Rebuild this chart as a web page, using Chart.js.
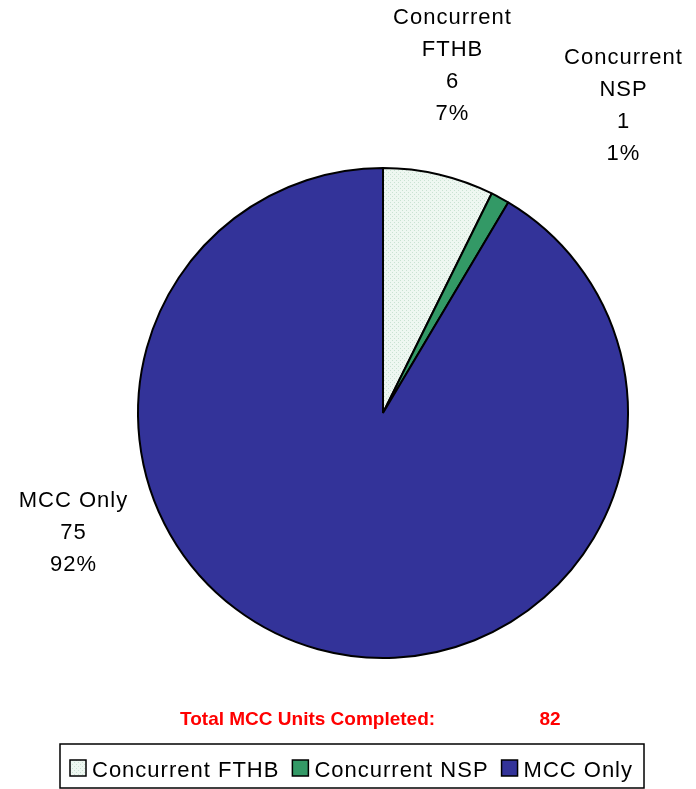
<!DOCTYPE html>
<html>
<head>
<meta charset="utf-8">
<script src="https://cdn.jsdelivr.net/npm/chart.js@4.4.1/dist/chart.umd.min.js"></script>
<style>
    html, body { margin: 0; padding: 0; background: #ffffff; }
    #wrap { width: 696px; height: 789px; }
</style>
</head>
<body>
<div id="wrap"><canvas id="mcc-pie" width="696" height="789"></canvas></div>
<script>
// data
const categories = ['Concurrent FTHB', 'Concurrent NSP', 'MCC Only'];
const unitCounts = [6, 1, 75];
const percentLabels = ['7%', '1%', '92%'];
const labelLines = [['Concurrent', 'FTHB'], ['Concurrent', 'NSP'], ['MCC Only']];
const totalTitle = 'Total MCC Units Completed:';

// label block anchors, offset from pie centre (layout only)
const labelOffsets = [{ dx: 69, dy: -389 }, { dx: 240, dy: -349 }, { dx: -310, dy: 94 }];

const FONT = '"Liberation Sans", Arial, sans-serif';
const SPACING = 1;   // the source text is set a little loose

function dotPattern() {
    const tile = document.createElement('canvas');
    tile.width = 4;
    tile.height = 4;
    const c = tile.getContext('2d');
    c.fillStyle = '#eef7f1';
    c.fillRect(0, 0, 4, 4);
    c.fillStyle = '#c9e2d2';
    c.fillRect(0, 0, 1, 1);
    c.fillRect(2, 2, 1, 1);
    return document.getElementById('mcc-pie').getContext('2d').createPattern(tile, 'repeat');
}

const sliceColors = [dotPattern(), '#339966', '#333399'];

function looseText(ctx, text, x, y, align) {
    ctx.save();
    ctx.letterSpacing = SPACING + 'px';
    ctx.textAlign = 'left';
    const w = ctx.measureText(text).width - SPACING;
    const left = align === 'center' ? x - w / 2 : x;
    ctx.fillText(text, left, y);
    ctx.restore();
    return w;
}

const extrasPlugin = {
    id: 'extras',
    afterDraw(chart) {
        const ctx = chart.ctx;
        const arc = chart.getDatasetMeta(0).data[0];
        const cx = arc.x;
        const cy = arc.y;

        // data labels
        ctx.save();
        ctx.fillStyle = '#000000';
        ctx.font = '22px ' + FONT;
        ctx.textBaseline = 'alphabetic';
        unitCounts.forEach((value, i) => {
            const lines = labelLines[i].concat([String(value), percentLabels[i]]);
            const x = cx + labelOffsets[i].dx;
            let y = cy + labelOffsets[i].dy;
            lines.forEach(line => {
                looseText(ctx, line, x, y, 'center');
                y += 32;
            });
        });
        ctx.restore();

        // total line
        const total = unitCounts.reduce((a, b) => a + b, 0);
        ctx.save();
        ctx.fillStyle = '#ff0000';
        ctx.font = 'bold 19px ' + FONT;
        ctx.textAlign = 'left';
        ctx.fillText(totalTitle, 180, 725);
        ctx.textAlign = 'center';
        ctx.fillText(String(total), 550, 725);
        ctx.restore();

        // legend
        ctx.save();
        ctx.font = '22px ' + FONT;
        let x = 70;
        const swatchTop = 760;
        const baseline = 777;
        categories.forEach((name, i) => {
            ctx.fillStyle = sliceColors[i];
            ctx.fillRect(x, swatchTop, 16, 16);
            ctx.strokeStyle = '#000000';
            ctx.lineWidth = 1.5;
            ctx.strokeRect(x, swatchTop, 16, 16);
            ctx.fillStyle = '#000000';
            const w = looseText(ctx, name, x + 22, baseline, 'left');
            x += 22 + w + 14;
        });
        ctx.strokeStyle = '#000000';
        ctx.lineWidth = 1.5;
        ctx.strokeRect(60, 744, x - 14 + 12 - 60, 44);
        ctx.restore();
    }
};

new Chart(document.getElementById('mcc-pie'), {
    type: 'pie',
    data: {
        labels: categories,
        datasets: [{
            data: unitCounts,
            backgroundColor: sliceColors,
            borderColor: '#000000',
            borderWidth: 2
        }]
    },
    options: {
        responsive: false,
        animation: false,
        devicePixelRatio: 1,
        layout: {
            padding: { left: 137, right: 67, top: 166, bottom: 129 }
        },
        plugins: {
            legend: { display: false },
            tooltip: { enabled: false }
        }
    },
    plugins: [extrasPlugin]
});
</script>
</body>
</html>
